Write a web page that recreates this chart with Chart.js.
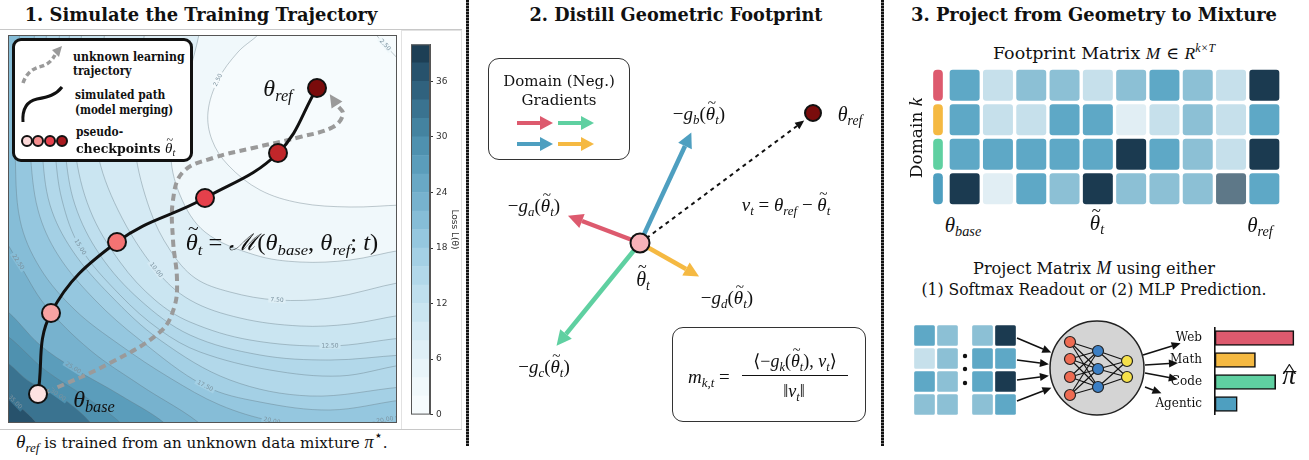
<!DOCTYPE html>
<html>
<head>
<meta charset="utf-8">
<title>Trajectory, footprint, mixture</title>
<script src="https://cdn.jsdelivr.net/npm/chart.js@4.4.1/dist/chart.umd.min.js"></script>
<style>
  html, body { margin: 0; background: #fff; }
  #page { position: relative; width: 1309px; height: 460px; overflow: hidden; font-family: "DejaVu Serif", serif; color: #111; }
  .box { position: absolute; }
  .box canvas { display: block; }
  .c { position: absolute; transform: translate(-50%, -50%); white-space: nowrap; line-height: 1; }
  .l { position: absolute; transform: translateY(-50%); transform-origin: 0 50%; white-space: nowrap; line-height: 1; }
  .m { font-family: "Liberation Serif", "DejaVu Serif", serif; font-style: italic; }
  .up { font-style: normal; }
  sub, sup { font-size: 68%; line-height: 0; }
  sub { vertical-align: -0.32em; }
  sup { vertical-align: 0.55em; }
  .tl, .hat { position: relative; display: inline-block; }
  .tl::after { content: "~"; position: absolute; left: 0.12em; right: 0; text-align: center; top: -0.6em; font-size: 0.8em; font-style: normal; }
  .hat::after { content: "^"; position: absolute; left: 0.05em; right: 0; text-align: center; top: -0.05em; font-size: 0.8em; font-style: normal; transform: scaleX(1.4); }
  .title { font-weight: bold; font-size: 19px; }
  .leg { font-weight: bold; font-size: 12.5px; }
  .sep { position: absolute; top: 0; width: 3px; height: 446px; background: repeating-linear-gradient(#111 0 2px, #777 2px 3px); }
  .rule { position: absolute; height: 1px; background: #c8c8c8; }
  .frame { position: absolute; box-sizing: border-box; }
</style>
</head>
<body>
<div id="page">

  <!-- panel 1 -->
  <div class="c title" data-w="353" style="left:201px;top:14px">1. Simulate the Training Trajectory</div>
  <div class="rule" style="left:0;top:29px;width:462px"></div>
  <div class="frame" style="left:401px;top:30px;width:61px;height:400px;border:1px solid #e2e2e2"></div>
  <div class="box" id="lossBox" style="left:8px;top:35px"><canvas id="loss" width="389" height="388"></canvas></div>
  <div class="box" style="left:411px;top:36px"><canvas id="cbar" width="49" height="387"></canvas></div>
  <div class="rule" style="left:0;top:429px;width:462px"></div>

  <div class="frame" style="left:12px;top:38px;width:181px;height:124px;border:3px solid #111;border-radius:9px;background:#fff"></div>
  <svg class="box" style="left:12px;top:38px" width="181" height="124">
    <path d="M11,45 C14,36 20,31 27,29 C35,27 39,24 43,17" fill="none" stroke="#9a9a9a" stroke-width="3.5" stroke-dasharray="5 3"/>
    <polygon points="50,8 40,12 47,19" fill="#9a9a9a"/>
    <path d="M11,84 C10,70 16,63 25,61 C36,59 44,57 50,49" fill="none" stroke="#111" stroke-width="3"/>
    <circle cx="15" cy="103" r="5" fill="#fcd9d9" stroke="#111" stroke-width="2"/>
    <circle cx="26" cy="103" r="5" fill="#f58f8f" stroke="#111" stroke-width="2"/>
    <circle cx="38" cy="103" r="5" fill="#e8414d" stroke="#111" stroke-width="2"/>
    <circle cx="50" cy="103" r="5" fill="#a81a1f" stroke="#111" stroke-width="2"/>
  </svg>
  <div class="l leg" data-w="112" style="left:73px;top:57px">unknown learning</div>
  <div class="l leg" data-w="59" style="left:73px;top:71px">trajectory</div>
  <div class="l leg" data-w="90" style="left:75px;top:95px">simulated path</div>
  <div class="l leg" data-w="98" style="left:75px;top:110px">(model merging)</div>
  <div class="l leg" data-w="47" style="left:76px;top:132px">pseudo-</div>
  <div class="l leg" style="left:76px;top:148px">checkpoints <span class="m" style="font-size:15px;font-weight:normal"><span class="tl">θ</span><sub>t</sub></span></div>

  <div class="c m" style="left:278px;top:88px;font-size:24px">θ<sub>ref</sub></div>
  <div class="c m" data-w="193" style="left:282px;top:242px;font-size:23px"><span class="tl">θ</span><sub>t</sub><span class="up"> = </span>ℳ<span class="up">(</span>θ<sub>base</sub><span class="up">, </span>θ<sub>ref</sub><span class="up">; </span>t<span class="up">)</span></div>
  <div class="c m" style="left:94px;top:399px;font-size:24px">θ<sub>base</sub></div>
  <div class="l" data-w="372" style="left:16px;top:441px;font-size:15px"><span class="m" style="font-size:19px">θ<sub>ref</sub></span> is trained from an unknown data mixture <span class="m" style="font-size:18px">π</span><sup style="font-size:95%">⋆</sup>.</div>

  <div class="sep" style="left:466px"></div>

  <!-- panel 2 -->
  <div class="c title" data-w="293" style="left:676px;top:14px">2. Distill Geometric Footprint</div>
  <div class="box" style="left:470px;top:40px"><canvas id="grad" width="405" height="400"></canvas></div>
  <div class="frame" style="left:488px;top:58px;width:142px;height:102px;border:1.2px solid #333;border-radius:11px"></div>
  <div class="c" data-w="112" style="left:559px;top:81px;font-size:15px">Domain (Neg.)</div>
  <div class="c" data-w="75" style="left:559px;top:100px;font-size:15px">Gradients</div>
  <svg class="box" style="left:510px;top:110px" width="90" height="45">
    <line x1="7" y1="13" x2="31" y2="13" stroke="#dd5a6e" stroke-width="4"/><polygon points="30,6 43,13 30,20" fill="#dd5a6e"/>
    <line x1="48" y1="13" x2="72" y2="13" stroke="#5fd0a1" stroke-width="4"/><polygon points="71,6 84,13 71,20" fill="#5fd0a1"/>
    <line x1="7" y1="34" x2="31" y2="34" stroke="#4e9fc0" stroke-width="4"/><polygon points="30,27 43,34 30,41" fill="#4e9fc0"/>
    <line x1="48" y1="34" x2="72" y2="34" stroke="#f5b942" stroke-width="4"/><polygon points="71,27 84,34 71,41" fill="#f5b942"/>
  </svg>
  <div class="c m" style="left:699px;top:113px;font-size:19px"><span class="up">−</span>g<sub>b</sub><span class="up">(</span><span class="tl">θ</span><sub>t</sub><span class="up">)</span></div>
  <div class="c m" style="left:850px;top:114px;font-size:20px">θ<sub>ref</sub></div>
  <div class="c m" style="left:534px;top:205px;font-size:19px"><span class="up">−</span>g<sub>a</sub><span class="up">(</span><span class="tl">θ</span><sub>t</sub><span class="up">)</span></div>
  <div class="c m" style="left:786px;top:204px;font-size:19px">v<sub>t</sub><span class="up"> = </span>θ<sub>ref</sub><span class="up"> − </span><span class="tl">θ</span><sub>t</sub></div>
  <div class="c m" style="left:643px;top:279px;font-size:20px"><span class="tl">θ</span><sub>t</sub></div>
  <div class="c m" style="left:727px;top:297px;font-size:19px"><span class="up">−</span>g<sub>d</sub><span class="up">(</span><span class="tl">θ</span><sub>t</sub><span class="up">)</span></div>
  <div class="c m" style="left:544px;top:366px;font-size:19px"><span class="up">−</span>g<sub>c</sub><span class="up">(</span><span class="tl">θ</span><sub>t</sub><span class="up">)</span></div>
  <div class="frame" style="left:672px;top:327px;width:194px;height:95px;border:1.2px solid #333;border-radius:11px"></div>
  <div class="l m" style="left:688px;top:376px;font-size:19px">m<sub>k,t</sub><span class="up"> =</span></div>
  <div class="c m" style="left:795px;top:361px;font-size:18px"><span class="up">⟨−</span>g<sub>k</sub><span class="up">(</span><span class="tl">θ</span><sub>t</sub><span class="up">), </span>v<sub>t</sub><span class="up">⟩</span></div>
  <div class="box" style="left:742px;top:375px;width:106px;height:1.3px;background:#111"></div>
  <div class="c m" style="left:794px;top:391px;font-size:18px"><span class="up">‖</span>v<sub>t</sub><span class="up">‖</span></div>

  <div class="sep" style="left:881px"></div>

  <!-- panel 3 -->
  <div class="c title" data-w="366" style="left:1094px;top:14px">3. Project from Geometry to Mixture</div>
  <div class="c" data-w="222" style="left:1104px;top:53px;font-size:17px">Footprint Matrix <span class="m">M</span> ∈ <span class="m">R<sup>k×T</sup></span></div>
  <div class="c" style="left:915px;top:138px;font-size:17px;transform:translate(-50%,-50%) rotate(-90deg)">Domain <span class="m" style="font-size:19px">k</span></div>
  <div class="box" style="left:928px;top:68px"><canvas id="pills" width="20" height="138"></canvas></div>
  <div class="box" style="left:948px;top:68px"><canvas id="heat" width="333" height="138"></canvas></div>
  <div class="c m" style="left:963px;top:225px;font-size:21px">θ<sub>base</sub></div>
  <div class="c m" style="left:1097px;top:223px;font-size:21px"><span class="tl">θ</span><sub>t</sub></div>
  <div class="c m" style="left:1260px;top:225px;font-size:21px">θ<sub>ref</sub></div>

  <div class="c" data-w="242" style="left:1094px;top:268px;font-size:16px">Project Matrix <span class="m" style="font-size:18px">M</span> using either</div>
  <div class="c" data-w="345" style="left:1094px;top:290px;font-size:16px">(1) Softmax Readout or (2) MLP Prediction.</div>
  <div class="box" style="left:913px;top:324px"><canvas id="miniA" width="46" height="92"></canvas></div>
  <div class="box" style="left:971px;top:324px"><canvas id="miniB" width="46" height="92"></canvas></div>
  <div class="box" style="left:955px;top:310px"><canvas id="mlp" width="260" height="115"></canvas></div>
  <div class="box" style="left:1150px;top:327px"><canvas id="mix" width="150" height="88"></canvas></div>
  <div class="c m" style="left:1289px;top:375px;font-size:27px"><span class="hat">π</span></div>
</div>

<script>
// ---------------- data ----------------

// colour bar of the loss surface (bottom -> top, bands of 2)
const cbarLevels = [0, 2, 4, 6, 8, 10, 12, 14, 16, 18, 20, 22, 24, 26, 28, 30, 32, 34, 36, 38, 40];
const cbarColors = ['#f6fbfd', '#f0f8fb', '#e8f4f9', '#dfeff6', '#d5eaf4', '#cae5f1', '#bfdfee', '#b2d8ea', '#a4d0e5', '#95c7df',
                    '#86bdd7', '#77b2ce', '#69a8c5', '#5b9dbb', '#4f91af', '#4483a0', '#3a7390', '#30627e', '#27526c', '#1d3f55'];
const cbarTicks = [0, 6, 12, 18, 24, 30, 36];

// loss contours in parameter space (theta1, theta2), highest loss first
const contourLevels = [35, 30, 27.5, 25, 22.5, 20, 17.5, 16.25, 15, 13.75, 12.5, 10, 7.5, 5, 2.5];
const c35 = [[-0.5, 3.3], [0.7, 2.1], [3.2, -0.5]];
const c30 = [[-0.5, 6.3], [2.2, 4.1], [5.0, 2.8], [8.7, -0.5]];
const c27_5 = [[-0.5, 9.0], [3.7, 5.3], [8.2, 2.3], [11.7, -0.5]];
const c25 = [[-0.5, 11.5], [3.2, 7.8], [6.5, 5.5], [11.2, 2.8], [16.2, -0.5]];
const c22_5 = [[-0.5, 18.3], [1.0, 16.1], [3.7, 11.8], [8.2, 7.3], [13.2, 3.8], [19.7, -0.5]];
const c20 = [[1.2, 39.3], [0.6, 32.3], [0.7, 27.3], [1.2, 20.3], [3.2, 15.5], [6.7, 11.3], [11.2, 7.8], [16.2, 4.5],
             [21.2, 1.8], [26.4, 0.2], [32.2, -0.5], [37.7, 0.3], [39.4, 0.8]];
const c17_5 = [[2.7, 39.3], [2.0, 32.3], [2.2, 27.3], [3.0, 21.3], [5.0, 16.8], [8.7, 12.3], [13.2, 8.3], [19.7, 3.7],
               [25.2, 2.1], [32.2, 1.3], [39.4, 2.3]];
const c16_25 = [[3.9, 39.3], [3.2, 32.3], [3.4, 27.3], [4.2, 21.8], [6.4, 17.3], [10.2, 12.8], [15.2, 8.3], [22.2, 4.3],
                [30.2, 2.7], [39.4, 3.6]];
const c15 = [[5.2, 39.3], [4.5, 32.3], [4.7, 27.3], [5.4, 22.3], [7.2, 17.6], [11.2, 12.8], [15.2, 9.3], [19.2, 7.1],
             [26.2, 5.3], [33.2, 4.7], [39.4, 5.8]];
const c13_75 = [[6.2, 39.3], [5.5, 32.3], [5.7, 27.3], [6.7, 21.8], [9.2, 16.8], [13.2, 12.3], [18.2, 8.8], [25.2, 6.8],
                [32.2, 6.3], [39.4, 6.8]];
const c12_5 = [[7.4, 39.3], [6.7, 32.3], [6.7, 27.3], [8.2, 21.3], [11.2, 16.1], [14.7, 12.3], [18.2, 10.1], [24.2, 8.3],
               [32.2, 7.7], [39.4, 8.5]];
const c10 = [[9.7, 39.3], [8.9, 32.3], [8.9, 27.3], [11.0, 21.3], [14.8, 15.3], [18.2, 12.3], [23.2, 10.5], [29.2, 9.7],
             [34.2, 9.9], [39.4, 10.8]];
const c7_5 = [[13.7, 39.3], [12.7, 32.3], [12.7, 27.3], [14.2, 21.3], [16.2, 17.3], [18.7, 14.5], [22.2, 13.1], [26.9, 12.3],
              [32.2, 12.5], [39.4, 14.1]];
const c5 = [[19.2, 39.3], [17.7, 33.3], [16.3, 27.3], [17.2, 22.8], [19.7, 19.1], [24.7, 16.8], [29.2, 16.1], [34.2, 16.3],
            [39.4, 17.3]];
const c2_5 = [[25.4, 39.3], [23.0, 37.1], [21.0, 34.3], [20.0, 31.1], [20.4, 28.3], [22.0, 25.8], [25.2, 23.3], [29.2, 22.0],
              [34.2, 21.6], [39.4, 21.8]];
const c2_5corner = [[36.4, 39.3], [37.7, 37.8], [39.4, 36.0]];
const contourPaths = [c35, c30, c27_5, c25, c22_5, c20, c17_5, c16_25, c15, c13_75, c12_5, c10, c7_5, c5, c2_5];
const contourLabelAt = [1, 2, null, 2, 1, [9, 11], 7, null, 4, null, 8, 4, 7, null, 2];

// simulated merge path / pseudo-checkpoints (theta_base ... theta_ref)
const ckptX = [3.0, 4.3, 10.9, 19.7, 27.0, 30.9];
const ckptY = [2.9, 11.0, 18.1, 22.5, 27.0, 33.5];
const ckptColors = ['#fde2e2', '#f7a3a3', '#f47373', '#e5404b', '#c0262a', '#7a0b0b'];

// unknown learning trajectory
const trajX = [3.9, 10.2, 15.2, 16.6, 16.9, 16.5, 16.5, 17.5, 20.5, 24.5, 29.2, 32.5, 33.5, 32.9];
const trajY = [3.1, 6.0, 9.1, 11.5, 14.3, 18.3, 22.3, 25.1, 26.5, 27.5, 28.6, 29.6, 30.9, 31.8];

// panel 2: domain gradients at theta~_t
const gradOrigin = [17.0, 19.7];
const gradEnds = [[11.2, 21.9], [21.5, 29.4], [9.6, 10.6], [21.6, 17.1]];   // a, b, c, d
const gradColors = ['#dd5a6e', '#4e9fc0', '#5fd0a1', '#f5b942'];
const vEnd = [32.7, 31.4];
const refPoint = [34.3, 32.7];

// panel 3: footprint matrix, rows = domains, columns = pseudo-checkpoints
const domains = ['Web', 'Math', 'Code', 'Agentic'];
const domainColors = ['#dd5a6e', '#f5b942', '#5fd0a1', '#4e9fc0'];
const steps = ['1', '2', '3', '4', '5', '6', '7', '8', '9', '10'];
const footWeb = [0.7, 0.3, 0.5, 0.5, 0.3, 0.5, 0.7, 0.5, 0.3, 0.95];
const footMath = [0.7, 0.3, 0.3, 0.7, 0.7, 0.1, 0.3, 0.5, 0.3, 0.7];
const footCode = [0.7, 0.7, 0.7, 0.7, 0.7, 0.95, 0.7, 0.5, 0.3, 0.95];
const footAgentic = [0.95, 0.1, 0.7, 0.5, 0.95, 0.5, 0.5, 0.5, 0.85, 0.7];
const heatScale = [[0.15, '#e1eef4'], [0.35, '#c6e0eb'], [0.55, '#8cc0d5'], [0.75, '#5ea8c6'], [0.9, '#5e7888'], [1.01, '#1b3a50']];

// input to the readout: first and last two columns
const miniFirst = [[0.7, 0.5], [0.3, 0.5], [0.7, 0.5], [0.5, 0.5]];
const miniLast = [[0.5, 0.95], [0.7, 0.7], [0.7, 0.95], [0.5, 0.7]];

// MLP sketch
const nnCenter = [9.2, 5.7];
const nnIn = [[6.5, 8.3], [6.5, 6.6], [6.5, 4.8], [6.5, 3.0]];
const nnHidden = [[9.3, 7.4], [9.3, 5.6], [9.3, 3.8]];
const nnOut = [[12.2, 6.4], [12.2, 4.8]];
const inArrows = [[[1.2, 8.7], [3.8, 7.6]], [[1.2, 6.5], [3.5, 6.2]], [[1.2, 4.5], [3.5, 4.8]], [[1.2, 2.4], [3.8, 3.4]]];
const outArrows = [[[13.8, 7.0], [16.7, 7.9]], [[14.0, 6.0], [16.4, 6.15]], [[14.0, 5.2], [16.4, 4.75]], [[14.0, 3.8], [14.8, 3.5]]];
const ellipsisDots = [[-4.0, 6.9], [-4.0, 5.6], [-4.0, 4.2]];

// predicted mixture pi-hat
const mixture = [0.39, 0.20, 0.30, 0.11];

// ---------------- helpers ----------------
Chart.defaults.animation = false;
Chart.defaults.events = [];
Chart.defaults.responsive = false;
Chart.defaults.layout.autoPadding = false;
Chart.defaults.plugins.legend.display = false;
Chart.defaults.plugins.tooltip.enabled = false;
Chart.defaults.font.family = '"DejaVu Sans", sans-serif';

const pts = arr => arr.map(([x, y]) => ({ x, y }));
const zip = (xs, ys) => xs.map((x, i) => ({ x, y: ys[i] }));
const hidden = (min, max) => ({ type: 'linear', display: false, min, max });
const bandColor = v => cbarColors[Math.min(19, Math.floor(v / 2))];
const heatColor = v => heatScale.find(s => v < s[0])[1];

// close a contour into the region of lower loss (toward the top-right corner)
function closeRegion(path) {
  const s = path[0], e = path[path.length - 1];
  const startTop = s[1] > 38.8, endRight = e[0] > 38.9;
  const pre = startTop ? [s[0], s[1] + 1.5] : [s[0] - 1.5, s[1]];
  const post = endRight ? [e[0] + 1.5, e[1]] : [e[0], e[1] - 1.5];
  const corners = [];
  if (!endRight) corners.push([43, -3]);
  corners.push([43, 43]);
  if (!startTop) corners.push([-3, 43]);
  return [pre, ...path, post, ...corners];
}

const frame = {
  id: 'frame',
  afterDraw(chart, args, opts) {
    if (!opts.color) return;
    const { left, top, width, height } = chart.chartArea;
    const ctx = chart.ctx;
    ctx.save();
    ctx.strokeStyle = opts.color;
    ctx.lineWidth = 1;
    ctx.strokeRect(left + 0.5, top + 0.5, width - 1, height - 1);
    ctx.restore();
  }
};

// arrow heads on the last point of datasets that ask for one
const arrowHeads = {
  id: 'arrowHeads',
  afterDatasetsDraw(chart) {
    const ctx = chart.ctx;
    chart.data.datasets.forEach((ds, i) => {
      if (!ds.head) return;
      const p = chart.getDatasetMeta(i).data;
      const a = p[p.length - 2], b = p[p.length - 1];
      const ang = Math.atan2(b.y - a.y, b.x - a.x);
      ctx.save();
      ctx.translate(b.x, b.y);
      ctx.rotate(ang);
      ctx.beginPath();
      ctx.moveTo(ds.head.len, 0);
      ctx.lineTo(0, ds.head.wid / 2);
      ctx.lineTo(0, -ds.head.wid / 2);
      ctx.closePath();
      ctx.fillStyle = ds.head.color || ds.borderColor;
      ctx.fill();
      ctx.restore();
    });
  }
};

// inline level labels on contour lines
const contourLabels = {
  id: 'contourLabels',
  afterDatasetsDraw(chart) {
    const ctx = chart.ctx;
    chart.data.datasets.forEach((ds, i) => {
      if (ds.lblAt == null) return;
      const p = chart.getDatasetMeta(i).data;
      [].concat(ds.lblAt).forEach(k => {
        const a = p[k - 1], q = p[k], b = p[k + 1];
        let ang = Math.atan2(b.y - a.y, b.x - a.x);
        if (ang > Math.PI / 2) ang -= Math.PI;
        if (ang < -Math.PI / 2) ang += Math.PI;
        const txt = ds.level.toFixed(2);
        ctx.save();
        ctx.translate(q.x, q.y);
        ctx.rotate(ang);
        ctx.font = '6px "DejaVu Sans"';
        const w = ctx.measureText(txt).width + 4;
        ctx.fillStyle = ds.labelBg;
        ctx.fillRect(-w / 2, -3, w, 6);
        ctx.fillStyle = '#7b929f';
        ctx.textAlign = 'center';
        ctx.textBaseline = 'middle';
        ctx.fillText(txt, 0, 0);
        ctx.restore();
      });
    });
  }
};

// ---------------- panel 1: loss surface ----------------
const lineGray = 'rgba(95,115,125,0.55)';
const lossSets = contourPaths.map((path, i) => {
  const lvl = contourLevels[i];
  const lower = i + 1 < contourLevels.length ? contourLevels[i + 1] : 0;
  const lbl = contourLabelAt[i];
  return {
    data: pts(closeRegion(path)), showLine: true, fill: 'shape',
    backgroundColor: bandColor((lvl + lower) / 2), borderColor: lineGray, borderWidth: 0.7,
    pointRadius: 0, tension: 0.35, order: 100 - i,
    level: lvl, lblAt: lbl == null ? null : [].concat(lbl).map(k => k + 1),
    labelBg: bandColor((lvl + lower) / 2)
  };
});
lossSets.push({ data: pts(c2_5corner), showLine: true, borderColor: lineGray, borderWidth: 0.7, pointRadius: 0,
  tension: 0.35, order: 50, level: 2.5, lblAt: 1, labelBg: cbarColors[1] });
lossSets.push({ data: zip(trajX, trajY), showLine: true, borderColor: '#9a9a9a', borderWidth: 4, borderDash: [7, 4.5],
  pointRadius: 0, tension: 0.4, order: 3, head: { len: 13, wid: 13 } });
lossSets.push({ data: zip(ckptX, ckptY), showLine: true, borderColor: '#111', borderWidth: 3, pointRadius: 0,
  tension: 0.4, order: 2 });
lossSets.push({ data: zip(ckptX, ckptY), showLine: false, pointRadius: 9, pointBackgroundColor: ckptColors,
  pointBorderColor: '#111', pointBorderWidth: 2, order: 1 });

document.getElementById('lossBox').style.background = bandColor(37.5);
new Chart(document.getElementById('loss'), {
  type: 'scatter',
  data: { datasets: lossSets },
  options: {
    layout: { padding: 0 },
    elements: { line: { capBezierPoints: false } },
    scales: { x: hidden(0, 38.9), y: hidden(0, 38.8) },
    plugins: { frame: { color: '#555' } }
  },
  plugins: [frame, arrowHeads, contourLabels]
});

new Chart(document.getElementById('cbar'), {
  type: 'bar',
  data: {
    labels: [''],
    datasets: cbarColors.map((c, i) => ({
      data: [[cbarLevels[i], cbarLevels[i + 1]]], backgroundColor: c,
      barPercentage: 1, categoryPercentage: 1, grouped: false
    }))
  },
  options: {
    layout: { padding: { top: 6, bottom: 6 } },
    scales: {
      x: { display: false },
      y: {
        position: 'right', min: 0, max: 40,
        afterBuildTicks: s => { s.ticks = cbarTicks.map(v => ({ value: v })); },
        afterFit: s => { s.width = 30; },
        ticks: { font: { size: 9 }, color: '#333', padding: 3 },
        grid: { drawOnChartArea: false, tickLength: 3, color: '#333' },
        border: { color: '#555' },
        title: { display: true, text: 'Loss L(θ)', font: { size: 9 }, color: '#333', padding: 0 }
      }
    },
    plugins: { frame: { color: '#555' } }
  },
  plugins: [frame]
});

// ---------------- panel 2: gradient geometry ----------------
const gradSets = gradEnds.map((e, i) => ({
  data: pts([gradOrigin, e]), showLine: true, borderColor: gradColors[i], borderWidth: 4.5,
  pointRadius: 0, order: 5, head: { len: 15, wid: 15 }
}));
gradSets.push({ data: pts([gradOrigin, vEnd]), showLine: true, borderColor: '#111', borderWidth: 2, borderDash: [4, 4],
  pointRadius: 0, order: 4, head: { len: 9, wid: 8 } });
gradSets.push({ data: pts([refPoint]), pointRadius: 8, pointBackgroundColor: '#7a0c0c', pointBorderColor: '#111',
  pointBorderWidth: 2, order: 2 });
gradSets.push({ data: pts([gradOrigin]), pointRadius: 9.5, pointBackgroundColor: '#f7b2b8', pointBorderColor: '#111',
  pointBorderWidth: 2, order: 1 });

new Chart(document.getElementById('grad'), {
  type: 'scatter',
  data: { datasets: gradSets },
  options: { layout: { padding: 0 }, scales: { x: hidden(0, 40.5), y: hidden(0, 40) } },
  plugins: [arrowHeads]
});

// ---------------- panel 3: footprint matrix ----------------
function cellChart(id, rows, labels, gap, r) {
  const datasets = rows.slice().reverse().map(row => ({
    data: row.map(() => 1),
    backgroundColor: row.map(heatColor),
    borderColor: '#fff', borderWidth: gap, borderSkipped: false,
    borderRadius: { topLeft: r, topRight: r, bottomLeft: r, bottomRight: r },
    barPercentage: 1, categoryPercentage: 1
  }));
  new Chart(document.getElementById(id), {
    type: 'bar',
    data: { labels, datasets },
    options: { layout: { padding: 0 }, scales: { x: { display: false, stacked: true }, y: { display: false, stacked: true, min: 0, max: rows.length } } }
  });
}
cellChart('heat', [footWeb, footMath, footCode, footAgentic], steps, 2, 5);
cellChart('miniA', miniFirst, ['1', '2'], 1.5, 3);
cellChart('miniB', miniLast, ['T-1', 'T'], 1.5, 3);

new Chart(document.getElementById('pills'), {
  type: 'bar',
  data: {
    labels: ['k'],
    datasets: domains.slice().reverse().map((d, i) => ({
      label: d, data: [1], backgroundColor: domainColors[domains.length - 1 - i],
      borderColor: '#fff', borderWidth: 2, borderSkipped: false, barThickness: 13,
      borderRadius: { topLeft: 6, topRight: 6, bottomLeft: 6, bottomRight: 6 }
    }))
  },
  options: { layout: { padding: 0 }, scales: { x: { display: false, stacked: true }, y: { display: false, stacked: true, min: 0, max: 4 } } }
});

// MLP sketch
const mlpSets = [];
mlpSets.push({ data: pts([nnCenter]), pointRadius: 47, pointBackgroundColor: '#d4d4d4', pointBorderColor: '#222',
  pointBorderWidth: 1.5, order: 20 });
nnIn.forEach(a => nnHidden.forEach(b => mlpSets.push({ data: pts([a, b]), showLine: true, borderColor: '#111',
  borderWidth: 1.1, pointRadius: 0, order: 10 })));
nnHidden.forEach(a => nnOut.forEach(b => mlpSets.push({ data: pts([a, b]), showLine: true, borderColor: '#111',
  borderWidth: 1.1, pointRadius: 0, order: 10 })));
[nnIn, nnHidden, nnOut].forEach((layer, j) => mlpSets.push({ data: pts(layer), pointRadius: 5.5,
  pointBackgroundColor: ['#ee6b52', '#3c7fc4', '#f5e04a'][j], pointBorderColor: '#222', pointBorderWidth: 1.2, order: 1 }));
inArrows.concat(outArrows).forEach(seg => mlpSets.push({ data: pts(seg), showLine: true, borderColor: '#111',
  borderWidth: 1.6, pointRadius: 0, order: 2, head: { len: 9, wid: 8 } }));
mlpSets.push({ data: pts(ellipsisDots), pointRadius: 2.2, pointBackgroundColor: '#111', pointBorderWidth: 0, order: 1 });

new Chart(document.getElementById('mlp'), {
  type: 'scatter',
  data: { datasets: mlpSets },
  options: { layout: { padding: 0 }, scales: { x: hidden(-5, 21), y: hidden(0, 11.5) } },
  plugins: [arrowHeads]
});

new Chart(document.getElementById('mix'), {
  type: 'bar',
  data: {
    labels: domains,
    datasets: [{ data: mixture, backgroundColor: domainColors, borderColor: '#111', borderWidth: 1.6,
      borderSkipped: false, barThickness: 15 }]
  },
  options: {
    indexAxis: 'y',
    layout: { padding: 0 },
    scales: {
      x: { display: false, min: 0, max: 0.42 },
      y: {
        afterFit: s => { s.width = 65; s.paddingTop = 0; s.paddingBottom = 0; },
        grid: { display: false },
        border: { color: '#111', width: 1.6 },
        ticks: { color: '#111', padding: 5, font: { family: '"DejaVu Serif", serif', size: 12 } }
      }
    }
  }
});

// squeeze text lines to the widths measured on the figure
document.querySelectorAll('[data-w]').forEach(el => {
  const k = +el.dataset.w / el.offsetWidth;
  const base = el.classList.contains('c') ? 'translate(-50%,-50%) ' : 'translateY(-50%) ';
  el.style.transform = base + 'scaleX(' + k.toFixed(3) + ')';
});
</script>
</body>
</html>
